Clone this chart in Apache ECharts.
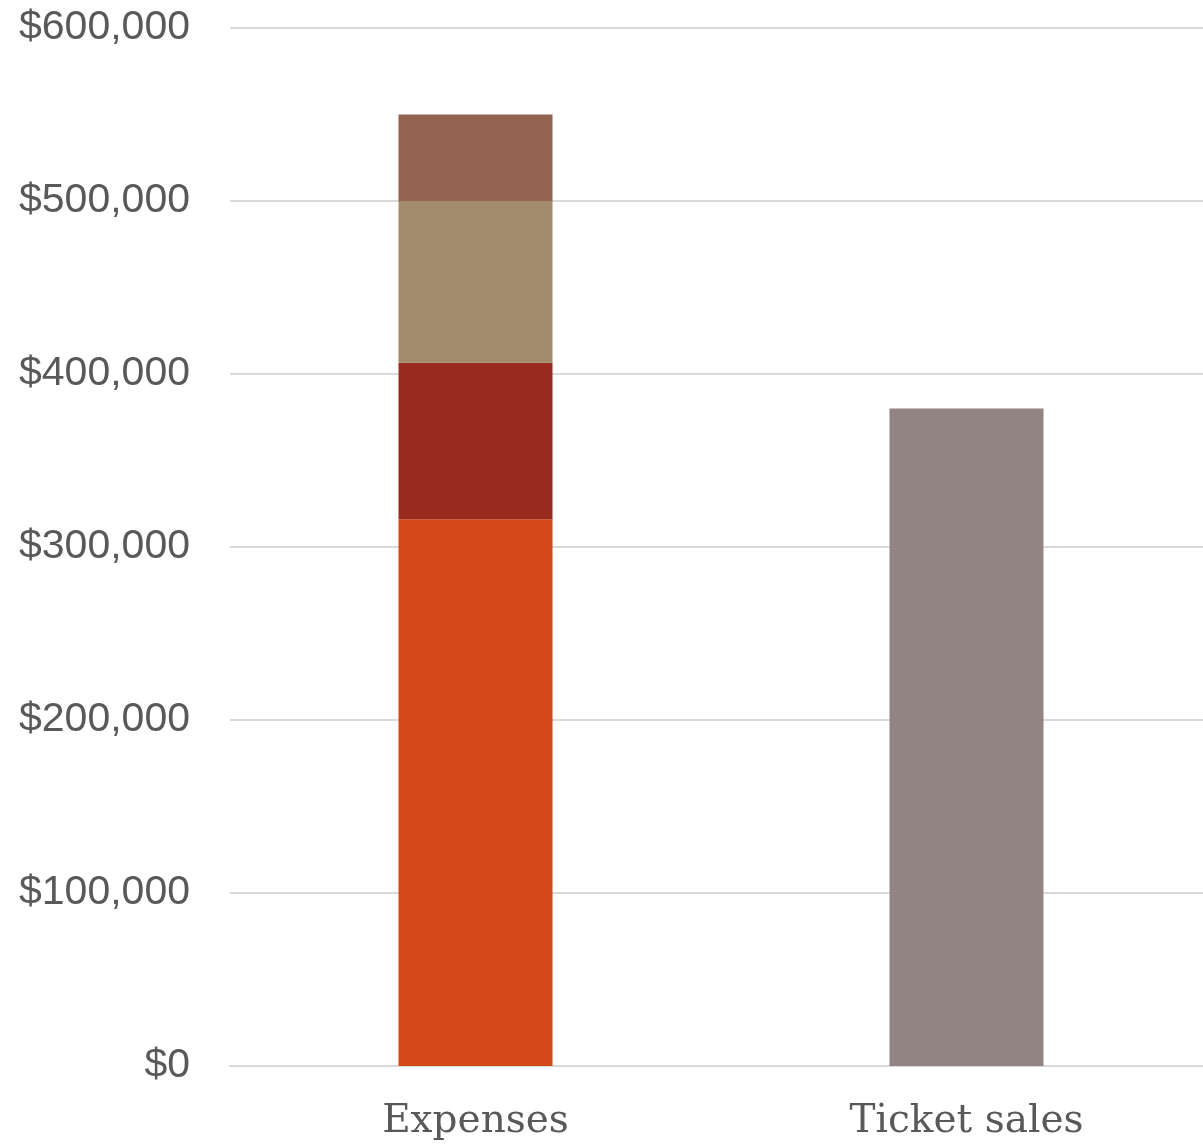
<!DOCTYPE html>
<html><head><meta charset="utf-8">
<script src="https://cdn.jsdelivr.net/npm/echarts@6/dist/echarts.min.js"></script>
<style>html,body{margin:0;padding:0;background:#fff}#c{width:1203px;height:1144px}</style>
</head><body><div id="c"></div>
<script>
const categories = ['Expenses', 'Ticket sales'];
const seriesNames = ['Expense 1', 'Expense 2', 'Expense 3', 'Expense 4', 'Ticket sales'];
const expense1 = [316000, '-'];
const expense2 = [90500, '-'];
const expense3 = [93500, '-'];
const expense4 = [50000, '-'];
const ticketSales = ['-', 380000];
const yTicks = [0, 100000, 200000, 300000, 400000, 500000, 600000];
const colors = ['#D34817', '#9A2C1F', '#A38C6B', '#946250', '#918482'];

const values = [expense1, expense2, expense3, expense4, ticketSales];
const chart = echarts.init(document.getElementById('c'));
chart.setOption({
  animation: false,
  grid: { left: 230, width: 982, top: 28, bottom: 78, containLabel: false, outerBoundsMode: 'none' },
  xAxis: {
    type: 'category', data: categories,
    axisLine: { show: true, lineStyle: { color: '#d9d9d9', width: 2 } },
    axisTick: { show: false },
    axisLabel: { color: '#595959', fontFamily: 'DejaVu Serif', fontSize: 39, fontWeight: 500, margin: 36 }
  },
  yAxis: {
    type: 'value', min: yTicks[0], max: yTicks[yTicks.length - 1], interval: 100000,
    axisLine: { show: false }, axisTick: { show: false },
    splitLine: { lineStyle: { color: '#d9d9d9', width: 2 } },
    axisLabel: {
      color: '#595959', fontFamily: 'Liberation Sans', fontSize: 41, margin: 40,
      formatter: v => '$' + v.toLocaleString('en-US')
    }
  },
  series: values.map((d, i) => ({
    name: seriesNames[i], type: 'bar', stack: 'total', data: d,
    barWidth: 154, itemStyle: { color: colors[i] }
  }))
});
</script></body></html>
